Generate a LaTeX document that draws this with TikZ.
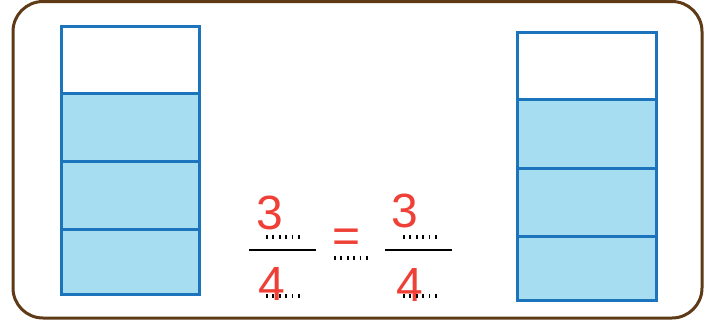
\documentclass[tikz,border=0pt]{standalone}
\usepackage{fontspec}
\setsansfont{Liberation Sans}
\definecolor{framebrown}{HTML}{5E3A17}
\definecolor{barblue}{HTML}{1C75BC}
\definecolor{barfill}{HTML}{A6DDF0}
\definecolor{penred}{HTML}{EE4036}
\tikzset{
  part/.style={draw=barblue, line width=3pt},
  blank/.style={line width=3.5pt, dash pattern=on 1.8pt off 4.6pt, black},
  digit/.style={text=penred, font=\sffamily\fontsize{48}{48}\selectfont, inner sep=0pt}
}
\begin{document}
\begin{tikzpicture}[x=1pt,y=-1pt]
        \useasboundingbox (0,0) rectangle (723,325);
        \draw[framebrown, line width=3pt, rounded corners=30pt] (13,1.5) rectangle (702,318);
        % left bar
        \draw[part, fill=white] (61,26) rectangle (199,93);
        \draw[part, fill=barfill] (61,93) rectangle (199,161);
        \draw[part, fill=barfill] (61,161) rectangle (199,229);
        \draw[part, fill=barfill] (61,229) rectangle (199,294);
        % right bar
        \draw[part, fill=white] (517,32) rectangle (656,99);
        \draw[part, fill=barfill] (517,99) rectangle (656,168);
        \draw[part, fill=barfill] (517,168) rectangle (656,236);
        \draw[part, fill=barfill] (517,236) rectangle (656,300);
        % fractions
        \draw[line width=2pt] (249,250) -- (316,250);
        \draw[line width=2pt] (385,250) -- (452,250);
        \node[digit] (numa) at (270,213) {3};
        \node[digit] (dena) at (272,284) {4};
        \node[digit] (numb) at (405,211) {3};
        \node[digit] (denb) at (410,285) {4};
        \node[digit] (eq) at (347,241) {=};
        \draw[blank] (266,237) -- (303,237);
        \draw[blank] (266,296) -- (303,296);
        \draw[blank] (334,258) -- (370,258);
        \draw[blank] (403,237) -- (439,237);
        \draw[blank] (403,296) -- (439,296);
    \end{tikzpicture}
\end{document}
